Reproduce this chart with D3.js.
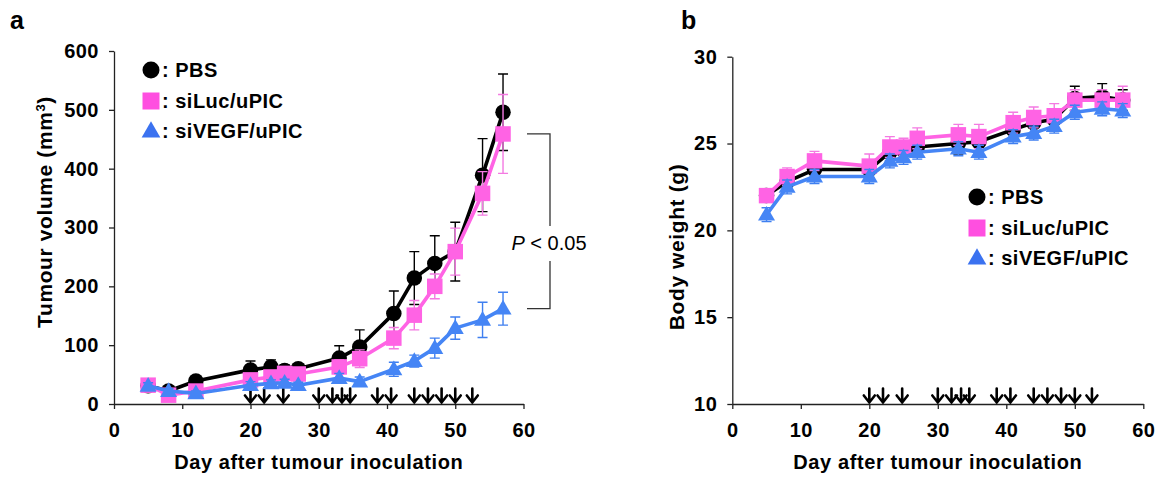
<!DOCTYPE html>
<html>
<head>
<meta charset="utf-8">
<script src="https://cdn.jsdelivr.net/npm/d3@7"></script>
<style>
  html, body { margin: 0; padding: 0; background: #fff; }
  svg { display: block; }
  text { font-family: "Liberation Sans", Arial, Helvetica, sans-serif; }
</style>
</head>
<body>
<svg id="chart" width="1164" height="477"></svg>
<script>
// Measurement days (shared by all groups)
const days = [5, 8, 12, 20, 23, 25, 27, 33, 36, 41, 44, 47, 50, 54, 57];

// Tumour volume (mm^3), mean and error
const volPBS      = [31, 22, 39, 58, 63, 57, 60, 78, 97, 154, 214, 239, 259, 389, 496];
const volPBSErr   = [8, 6, 6, 15, 12, 10, 8, 21, 29, 38, 45, 47, 50, 62, 65];
const volLuc      = [32, 15, 22, 41, 46, 52, 51, 63, 77, 112, 151, 200, 259, 358, 459];
const volLucErr   = [8, 5, 5, 10, 10, 10, 10, 12, 15, 18, 25, 21, 40, 37, 67];
const volVEGF     = [31, 22, 18, 32, 35, 36, 32, 44, 38, 59, 73, 95, 129, 143, 162];
const volVEGFErr  = [5, 4, 4, 6, 6, 6, 5, 8, 8, 12, 10, 17, 19, 30, 28];

// Body weight (g), mean and error
const bwPBS       = [22.0, 22.8, 23.5, 23.5, 24.5, 24.6, 24.8, 25.0, 25.1, 25.8, 26.2, 26.4, 27.6, 27.7, 27.5];
const bwPBSErr    = [0.3, 0.4, 0.5, 0.5, 0.5, 0.5, 0.5, 0.6, 0.6, 0.6, 0.6, 0.6, 0.7, 0.75, 0.6];
const bwLuc       = [22.0, 23.1, 24.0, 23.7, 24.8, 24.8, 25.3, 25.5, 25.4, 26.2, 26.5, 26.6, 27.5, 27.5, 27.5];
const bwLucErr    = [0.3, 0.5, 0.55, 0.7, 0.6, 0.5, 0.6, 0.6, 0.7, 0.6, 0.6, 0.7, 0.6, 0.6, 0.8];
const bwVEGF      = [20.9, 22.5, 23.1, 23.1, 24.0, 24.2, 24.5, 24.7, 24.5, 25.4, 25.6, 26.0, 26.8, 27.0, 26.9];
const bwVEGFErr   = [0.4, 0.4, 0.4, 0.4, 0.4, 0.4, 0.4, 0.4, 0.4, 0.4, 0.4, 0.4, 0.4, 0.4, 0.4];

// Injection days (arrows on the x axis)
const doseDays = [20, 22, 24.8, 30, 32, 33.4, 34.6, 38.6, 40.6, 44, 46, 48, 50, 52.5];

// Group names and tick values
const groups = ["PBS", "siLuc/uPIC", "siVEGF/uPIC"];
const xTicks = [0, 10, 20, 30, 40, 50, 60];
const volTicks = [0, 100, 200, 300, 400, 500, 600];
const bwTicks = [10, 15, 20, 25, 30];

const styles = [
  { color: "#000000", err: "#000000", shape: "circle" },
  { color: "#ff63e4", err: "#f47ae2", shape: "square" },
  { color: "#4585f5", err: "#3f7ff0", shape: "triangle" }
];

const svg = d3.select("#chart");
const FONT = 20;

function markerPath(shape, size) {
  if (shape === "circle") return d3.symbol(d3.symbolCircle, Math.PI * size * size / 4)();
  if (shape === "square") return d3.symbol(d3.symbolSquare, size * size)();
  // upward triangle
  const w = size * 1.1, h = size * 0.95;
  return `M0,${-h * 0.6}L${w / 2},${h * 0.4}L${-w / 2},${h * 0.4}Z`;
}

function drawPanel(cfg) {
  const g = svg.append("g");
  const x = d3.scaleLinear().domain([0, 60]).range(cfg.xRange);
  const y = d3.scaleLinear().domain(cfg.yDomain).range(cfg.yRange);

  // axes
  const xAxis = g.append("g")
    .attr("transform", `translate(0,${cfg.yRange[0]})`)
    .call(d3.axisBottom(x).tickValues(xTicks).tickSize(5).tickPadding(14).tickSizeOuter(0));
  const yAxis = g.append("g")
    .attr("transform", `translate(${cfg.xRange[0]},0)`)
    .call(d3.axisLeft(y).tickValues(cfg.yTicks).tickSize(5).tickPadding(10).tickSizeOuter(0));
  [xAxis, yAxis].forEach(a => {
    a.select(".domain").attr("stroke", "#222").attr("stroke-width", 1.3);
    a.selectAll(".tick line").attr("stroke", "#222").attr("stroke-width", 1.3);
    a.selectAll(".tick text")
      .attr("fill", "#000")
      .style("font-size", FONT + "px")
      .style("font-weight", "bold")
      .style("letter-spacing", "0.5px");
  });

  // dosing arrows
  const arrows = g.append("g");
  doseDays.forEach(d => {
    const ax = x(d), base = cfg.yRange[0] - 1.5;
    arrows.append("path")
      .attr("d", `M${ax},${base - 14}L${ax},${base}M${ax - 5.5},${base - 7}L${ax},${base}L${ax + 5.5},${base - 7}`)
      .attr("fill", "none")
      .attr("stroke", "#000")
      .attr("stroke-width", 2.6)
      .attr("stroke-linecap", "round")
      .attr("stroke-linejoin", "miter");
  });

  // series
  cfg.series.forEach((s, i) => {
    const st = styles[i];
    const sg = g.append("g");
    const pts = days.map((d, k) => ({ d, v: s.values[k], e: s.errors[k] }));
    // error bars
    pts.forEach(p => {
      const px = x(p.d), y1 = y(p.v + p.e), y2 = y(p.v - p.e);
      sg.append("path")
        .attr("d", `M${px},${y1}L${px},${y2}M${px - 5},${y1}L${px + 5},${y1}M${px - 5},${y2}L${px + 5},${y2}`)
        .attr("stroke", st.err)
        .attr("stroke-width", 1.4)
        .attr("fill", "none");
    });
    // line
    sg.append("path")
      .datum(pts)
      .attr("d", d3.line().x(p => x(p.d)).y(p => y(p.v)))
      .attr("fill", "none")
      .attr("stroke", st.color)
      .attr("stroke-width", 3.6)
      .attr("stroke-linejoin", "round");
    // markers
    sg.selectAll(".m").data(pts).join("path")
      .attr("transform", p => `translate(${x(p.d)},${y(p.v)})`)
      .attr("d", markerPath(st.shape, 15.5))
      .attr("fill", st.color);
  });

  // axis titles
  g.append("text")
    .attr("x", (cfg.xRange[0] + cfg.xRange[1]) / 2)
    .attr("y", cfg.xTitleY)
    .attr("text-anchor", "middle")
    .style("font-size", FONT + "px")
    .style("font-weight", "bold")
    .style("letter-spacing", "0.6px")
    .text("Day after tumour inoculation");

  const yt = g.append("text")
    .attr("transform", `translate(${cfg.yTitleX},${cfg.yTitleY}) rotate(-90)`)
    .attr("text-anchor", "middle")
    .style("font-size", "21px")
    .style("font-weight", "bold")
    .style("letter-spacing", "0.6px");
  cfg.yTitle(yt);

  // panel letter
  g.append("text")
    .attr("x", cfg.letterX)
    .attr("y", 29)
    .style("font-size", "25px")
    .style("font-weight", "bold")
    .text(cfg.letter);

  // legend
  const lg = g.append("g");
  groups.forEach((name, i) => {
    const cy = cfg.legend.y[i];
    lg.append("path")
      .attr("transform", `translate(${cfg.legend.x},${cy})`)
      .attr("d", markerPath(styles[i].shape, 17))
      .attr("fill", i === 1 ? "#ff4fe0" : i === 2 ? "#3b72f0" : "#000");
    lg.append("text")
      .attr("x", cfg.legend.x + 11)
      .attr("y", cy + 7)
      .style("font-size", FONT + "px")
      .style("font-weight", "bold")
      .style("letter-spacing", "0.5px")
      .text(": " + name);
  });

  return { x, y, g };
}

// Panel a: tumour volume
const pa = drawPanel({
  letter: "a", letterX: 10,
  xRange: [114, 523.5], yDomain: [0, 600], yRange: [404, 51], yTicks: volTicks,
  xTitleY: 469, yTitleX: 52, yTitleY: 212,
  yTitle: t => {
    t.append("tspan").text("Tumour volume (mm");
    t.append("tspan").attr("baseline-shift", "super").style("font-size", "13px").text("3");
    t.append("tspan").text(")");
  },
  legend: { x: 151, y: [70, 101, 131] },
  series: [
    { values: volPBS, errors: volPBSErr },
    { values: volLuc, errors: volLucErr },
    { values: volVEGF, errors: volVEGFErr }
  ]
});

// significance bracket between the final siLuc and siVEGF values
(function () {
  const last = days.length - 1;
  const yTop = pa.y(volLuc[last]), yBot = pa.y(volVEGF[last]);
  const bx = 550;
  const gapTop = 226, gapBot = 261;
  pa.g.append("path")
    .attr("d", `M${bx - 23},${yTop}L${bx},${yTop}L${bx},${gapTop}M${bx},${gapBot}L${bx},${yBot}L${bx - 23},${yBot}`)
    .attr("fill", "none")
    .attr("stroke", "#333")
    .attr("stroke-width", 1.3);
  const t = pa.g.append("text")
    .attr("x", 549)
    .attr("y", 250)
    .attr("text-anchor", "middle")
    .style("font-size", "20px");
  t.append("tspan").style("font-style", "italic").text("P");
  t.append("tspan").text(" < 0.05");
})();

// Panel b: body weight
drawPanel({
  letter: "b", letterX: 681,
  xRange: [732.3, 1143.3], yDomain: [10, 30], yRange: [404, 56.7], yTicks: bwTicks,
  xTitleY: 469, yTitleX: 684, yTitleY: 247,
  yTitle: t => t.text("Body weight (g)"),
  legend: { x: 977, y: [197, 228, 258] },
  series: [
    { values: bwPBS, errors: bwPBSErr },
    { values: bwLuc, errors: bwLucErr },
    { values: bwVEGF, errors: bwVEGFErr }
  ]
});
</script>
</body>
</html>
